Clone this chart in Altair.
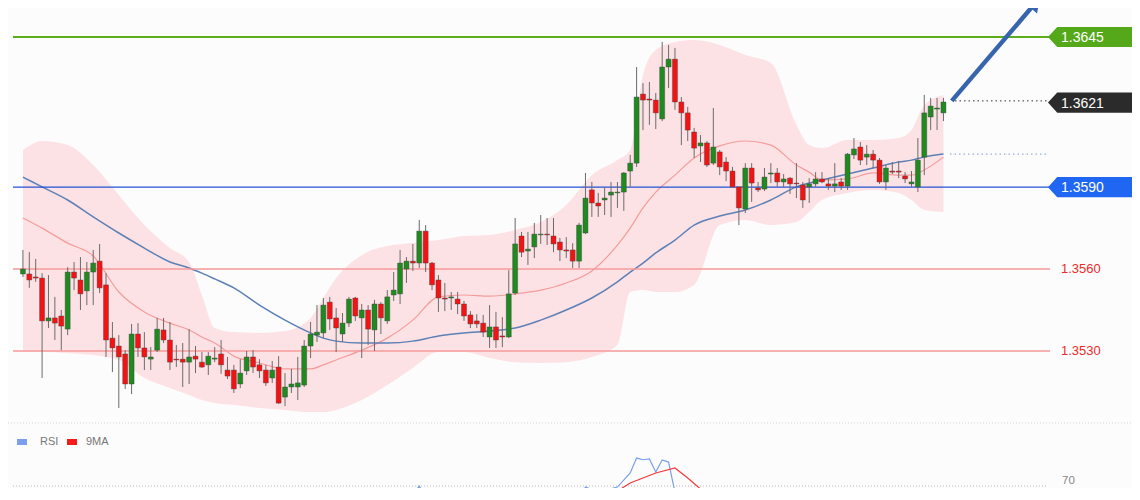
import altair as alt
import pandas as pd

# ------------------------------------------------------------------ data
open_ = [
    1.35582, 1.35582, 1.35571, 1.35567, 1.35410, 1.35421, 1.35428, 1.35380, 1.35589, 1.35560,
    1.35520, 1.35589, 1.35629, 1.35542, 1.35347, 1.35318, 1.35289, 1.35179, 1.35362, 1.35311,
    1.35270, 1.35303, 1.35377, 1.35340, 1.35270, 1.35270, 1.35259, 1.35281, 1.35259, 1.35249,
    1.35270, 1.35289, 1.35230, 1.35230, 1.35179, 1.35227, 1.35278, 1.35249, 1.35230, 1.35201,
    1.35241, 1.35131, 1.35168, 1.35168, 1.35175, 1.35318, 1.35358, 1.35366, 1.35479, 1.35421,
    1.35362, 1.35402, 1.35494, 1.35421, 1.35450, 1.35377, 1.35472, 1.35410, 1.35505, 1.35509,
    1.35600, 1.35629, 1.35622, 1.35739, 1.35622, 1.35560, 1.35494, 1.35494, 1.35490, 1.35472,
    1.35432, 1.35410, 1.35402, 1.35351, 1.35388, 1.35355, 1.35351, 1.35512, 1.35721, 1.35666,
    1.35681, 1.35725, 1.35728, 1.35721, 1.35699, 1.35670, 1.35670, 1.35629, 1.35732, 1.35890,
    1.35842, 1.35853, 1.35871, 1.35879, 1.35882, 1.35959, 1.35988, 1.36241, 1.36223, 1.36219,
    1.36150, 1.36340, 1.36369, 1.36212, 1.36172, 1.36102, 1.36051, 1.36062, 1.35988, 1.36029,
    1.35992, 1.35959, 1.35901, 1.35820, 1.35970, 1.35897, 1.35893, 1.35948, 1.35952, 1.35919,
    1.35933, 1.35915, 1.35908, 1.35901, 1.35912, 1.35930, 1.35912, 1.35904, 1.35919, 1.35904,
    1.36018, 1.36047, 1.36010, 1.36021, 1.35999, 1.35919, 1.35959, 1.35959, 1.35941, 1.35912,
    1.35901, 1.36010, 1.36157, 1.36186, 1.36172,
]
high = [
    1.35670, 1.35662, 1.35637, 1.35585, 1.35578, 1.35498, 1.35450, 1.35607, 1.35626, 1.35644,
    1.35626, 1.35670, 1.35692, 1.35585, 1.35406, 1.35358, 1.35303, 1.35399, 1.35402, 1.35369,
    1.35314, 1.35421, 1.35421, 1.35406, 1.35322, 1.35329, 1.35380, 1.35318, 1.35296, 1.35296,
    1.35314, 1.35340, 1.35278, 1.35249, 1.35270, 1.35300, 1.35303, 1.35270, 1.35249, 1.35263,
    1.35281, 1.35219, 1.35234, 1.35278, 1.35340, 1.35406, 1.35468, 1.35494, 1.35498, 1.35457,
    1.35439, 1.35498, 1.35498, 1.35472, 1.35468, 1.35487, 1.35479, 1.35523, 1.35589, 1.35670,
    1.35644, 1.35692, 1.35780, 1.35761, 1.35626, 1.35578, 1.35549, 1.35516, 1.35516, 1.35483,
    1.35446, 1.35435, 1.35432, 1.35468, 1.35443, 1.35424, 1.35596, 1.35787, 1.35736, 1.35736,
    1.35769, 1.35798, 1.35787, 1.35787, 1.35714, 1.35717, 1.35695, 1.35769, 1.35952, 1.35919,
    1.35879, 1.35901, 1.35919, 1.35919, 1.35955, 1.36018, 1.36340, 1.36281, 1.36285, 1.36245,
    1.36432, 1.36421, 1.36410, 1.36230, 1.36194, 1.36117, 1.36091, 1.36069, 1.36190, 1.36036,
    1.36010, 1.35974, 1.35901, 1.35988, 1.35988, 1.35919, 1.35970, 1.35988, 1.35970, 1.35948,
    1.35937, 1.35988, 1.35919, 1.35933, 1.35955, 1.35955, 1.35933, 1.35988, 1.35933, 1.36025,
    1.36080, 1.36065, 1.36054, 1.36036, 1.36007, 1.35981, 1.35992, 1.35996, 1.35955, 1.35959,
    1.36080, 1.36238, 1.36227, 1.36227, 1.36227,
]
low = [
    1.35571, 1.35531, 1.35553, 1.35201, 1.35384, 1.35340, 1.35303, 1.35358, 1.35523, 1.35450,
    1.35468, 1.35468, 1.35512, 1.35278, 1.35223, 1.35091, 1.35161, 1.35142, 1.35278, 1.35230,
    1.35230, 1.35296, 1.35329, 1.35230, 1.35241, 1.35168, 1.35179, 1.35219, 1.35238, 1.35212,
    1.35259, 1.35216, 1.35197, 1.35146, 1.35164, 1.35212, 1.35219, 1.35201, 1.35172, 1.35183,
    1.35106, 1.35098, 1.35146, 1.35120, 1.35168, 1.35274, 1.35333, 1.35347, 1.35377, 1.35296,
    1.35333, 1.35388, 1.35410, 1.35274, 1.35322, 1.35300, 1.35362, 1.35399, 1.35483, 1.35472,
    1.35549, 1.35593, 1.35604, 1.35589, 1.35523, 1.35443, 1.35446, 1.35450, 1.35435, 1.35410,
    1.35384, 1.35384, 1.35351, 1.35311, 1.35311, 1.35314, 1.35347, 1.35505, 1.35644, 1.35615,
    1.35640, 1.35692, 1.35688, 1.35662, 1.35629, 1.35640, 1.35604, 1.35604, 1.35728, 1.35791,
    1.35791, 1.35798, 1.35791, 1.35824, 1.35813, 1.35901, 1.35974, 1.36109, 1.36128, 1.36113,
    1.36142, 1.36263, 1.36183, 1.36054, 1.36069, 1.36007, 1.35992, 1.35974, 1.35981, 1.35944,
    1.35922, 1.35897, 1.35761, 1.35805, 1.35846, 1.35882, 1.35886, 1.35915, 1.35901, 1.35901,
    1.35875, 1.35860, 1.35824, 1.35842, 1.35901, 1.35915, 1.35890, 1.35882, 1.35890, 1.35890,
    1.36003, 1.35981, 1.35981, 1.35970, 1.35912, 1.35890, 1.35948, 1.35933, 1.35915, 1.35901,
    1.35882, 1.35944, 1.36109, 1.36109, 1.36142,
]
close = [
    1.35600, 1.35560, 1.35567, 1.35410, 1.35421, 1.35402, 1.35391, 1.35589, 1.35567, 1.35509,
    1.35589, 1.35622, 1.35531, 1.35340, 1.35311, 1.35278, 1.35179, 1.35362, 1.35311, 1.35278,
    1.35278, 1.35380, 1.35340, 1.35259, 1.35267, 1.35259, 1.35278, 1.35270, 1.35241, 1.35281,
    1.35274, 1.35249, 1.35208, 1.35161, 1.35219, 1.35278, 1.35241, 1.35227, 1.35183, 1.35230,
    1.35109, 1.35168, 1.35179, 1.35183, 1.35318, 1.35362, 1.35369, 1.35468, 1.35417, 1.35384,
    1.35402, 1.35490, 1.35428, 1.35450, 1.35380, 1.35472, 1.35421, 1.35498, 1.35523, 1.35622,
    1.35629, 1.35622, 1.35739, 1.35622, 1.35542, 1.35494, 1.35490, 1.35498, 1.35472, 1.35428,
    1.35399, 1.35399, 1.35369, 1.35388, 1.35340, 1.35351, 1.35509, 1.35692, 1.35662, 1.35673,
    1.35728, 1.35728, 1.35725, 1.35692, 1.35670, 1.35666, 1.35629, 1.35761, 1.35860, 1.35842,
    1.35831, 1.35860, 1.35882, 1.35882, 1.35952, 1.35988, 1.36230, 1.36219, 1.36219, 1.36172,
    1.36340, 1.36369, 1.36212, 1.36172, 1.36109, 1.36043, 1.36062, 1.35981, 1.36047, 1.35974,
    1.35959, 1.35901, 1.35824, 1.35970, 1.35915, 1.35890, 1.35937, 1.35952, 1.35919, 1.35930,
    1.35912, 1.35912, 1.35853, 1.35912, 1.35930, 1.35919, 1.35904, 1.35912, 1.35904, 1.36021,
    1.36040, 1.35999, 1.36021, 1.35999, 1.35919, 1.35970, 1.35955, 1.35955, 1.35930, 1.35919,
    1.35999, 1.36172, 1.36197, 1.36190, 1.36212,
]

# Bollinger band / moving averages read at these candle numbers
band_idx = [1, 4, 8, 12, 16, 20, 24, 27, 29, 31, 34, 38, 42, 46, 48, 50, 54, 58, 62, 66,
            70, 74, 78, 82, 86, 90, 94, 96, 98, 100, 103, 106, 110, 114, 118, 122, 124, 126,
            130, 134, 138, 140, 142, 145]
band_upper = [1.36036, 1.36069, 1.36054, 1.35981, 1.35871, 1.35761, 1.35677, 1.35626, 1.35505, 1.35384,
              1.35369, 1.35366, 1.35373, 1.35421, 1.35494, 1.35567, 1.35651, 1.35684, 1.35695, 1.35706,
              1.35721, 1.35725, 1.35743, 1.35772, 1.35835, 1.35944, 1.35999, 1.36036, 1.36311, 1.36402,
              1.36432, 1.36439, 1.36421, 1.36384, 1.36355, 1.36128, 1.36054, 1.36043, 1.36073, 1.36073,
              1.36080, 1.36109, 1.36201, 1.36238]
band_lower = [1.35296, 1.35296, 1.35292, 1.35285, 1.35267, 1.35201, 1.35164, 1.35139, 1.35120, 1.35109,
              1.35102, 1.35091, 1.35084, 1.35076, 1.35076, 1.35084, 1.35120, 1.35175, 1.35238, 1.35296,
              1.35296, 1.35274, 1.35259, 1.35256, 1.35259, 1.35278, 1.35322, 1.35516, 1.35523, 1.35516,
              1.35516, 1.35542, 1.35761, 1.35780, 1.35761, 1.35772, 1.35809, 1.35853, 1.35879, 1.35890,
              1.35879, 1.35853, 1.35816, 1.35809]
ma_fast = [1.35787, 1.35750, 1.35695, 1.35648, 1.35516, 1.35443, 1.35402, 1.35377, 1.35351, 1.35329,
           1.35281, 1.35256, 1.35234, 1.35234, 1.35249, 1.35267, 1.35303, 1.35347, 1.35413, 1.35498,
           1.35505, 1.35501, 1.35509, 1.35523, 1.35549, 1.35593, 1.35688, 1.35750, 1.35824, 1.35882,
           1.35944, 1.36007, 1.36051, 1.36069, 1.36054, 1.35981, 1.35955, 1.35926, 1.35930, 1.35952,
           1.35944, 1.35944, 1.35963, 1.36010]
ma_slow = [1.35937, 1.35901, 1.35853, 1.35791, 1.35732, 1.35677, 1.35626, 1.35604, 1.35585, 1.35564,
           1.35531, 1.35468, 1.35413, 1.35366, 1.35347, 1.35336, 1.35329, 1.35329, 1.35336, 1.35355,
           1.35366, 1.35373, 1.35384, 1.35413, 1.35450, 1.35494, 1.35553, 1.35589, 1.35622, 1.35659,
           1.35706, 1.35761, 1.35794, 1.35816, 1.35853, 1.35901, 1.35915, 1.35926, 1.35948, 1.35970,
           1.35992, 1.35999, 1.36010, 1.36021]

# horizontal levels
level_prices = [1.3645, 1.3590, 1.3560, 1.3530]
level_colors = ["#5aae1c", "#2252d6", "#f59a9a", "#f59a9a"]
level_widths = [2, 1.3, 1.5, 1.5]
box_prices = [1.3645, 1.3621, 1.3590]
box_texts = ["1.3645", "1.3621", "1.3590"]
box_colors = ["#55a81a", "#2b2b2b", "#1f66f2"]
red_label_prices = [1.3560, 1.3530]
red_label_texts = ["1.3560", "1.3530"]
last_price = 1.36216
ma_slow_last = 1.36021
arrow_i = [146.3, 159.4]
arrow_p = [1.36216, 1.36575]

# RSI panel
rsi_idx = [1, 10, 20, 30, 40, 50, 55, 58, 60, 62, 63, 64, 65, 70, 76, 78, 80, 81, 83, 85,
           88, 89, 91, 94, 96, 97, 98, 99, 100, 101, 102, 103, 104, 106, 115, 125, 135, 140,
           142, 143, 144, 145]
rsi_val = [45, 38, 35, 42, 40, 52, 55, 60, 64.8, 65.7, 70, 64.8, 60, 50, 58, 64.3, 67.6, 67.6, 64.3, 60,
           64, 69.5, 67.1, 69.5, 76.2, 83.3, 82.5, 82.9, 76.7, 82.4, 81.4, 67.1, 61, 55, 45, 50, 50, 58,
           67.1, 68.1, 67.8, 68.6]
ma9_idx = [1, 20, 40, 60, 70, 80, 86, 89, 93, 96, 100, 103, 105, 109, 112, 120, 130, 145]
ma9_val = [42, 40, 42, 55, 56, 55, 63.3, 63.8, 65.7, 71.4, 76.2, 78.6, 73.8, 63.3, 58, 50, 48, 55]
rsi_level = 70

# ------------------------------------------------------------------ scales
W, H = 1124, 480
xs = alt.Scale(domain=[-0.5504, 173.713], nice=False, zero=False)
ys = alt.Scale(domain=[1.3479799, 1.3655623], nice=False, zero=False)
rs = alt.Scale(domain=[69.048, 297.619], nice=False, zero=False)
FONT = "Liberation Sans"


def X(f):
    return alt.X(f, type="quantitative", scale=xs, axis=None)


def Y(f):
    return alt.Y(f, type="quantitative", scale=ys, axis=None)


def R(f):
    return alt.Y(f, type="quantitative", scale=rs, axis=None)


candles = pd.DataFrame({"i": list(range(1, len(open_) + 1)), "open": open_,
                        "high": high, "low": low, "close": close})
bands = pd.DataFrame({"i": band_idx, "upper": band_upper, "lower": band_lower,
                      "fast": ma_fast, "slow": ma_slow})
levels = pd.DataFrame({"p": level_prices, "c": level_colors, "w": level_widths})
boxes = pd.DataFrame({"p": box_prices, "t": box_texts, "c": box_colors})
reds = pd.DataFrame({"p": red_label_prices, "t": red_label_texts})
arrow = pd.DataFrame({"i": arrow_i, "p": arrow_p})
rsi = pd.concat([
    pd.DataFrame({"i": rsi_idx, "v": rsi_val, "s": "RSI"}),
    pd.DataFrame({"i": ma9_idx, "v": ma9_val, "s": "9MA"}),
])
one = pd.DataFrame({"a": [0]})

band = alt.Chart(bands).mark_area(color="#fde2e5", opacity=1, interpolate="monotone").encode(
    x=X("i"), y=Y("upper"), y2="lower")
fast = alt.Chart(bands).mark_line(color="#f49c9c", strokeWidth=1.2, interpolate="monotone").encode(
    x=X("i"), y=Y("fast"))
slow = alt.Chart(bands).mark_line(color="#5d80b6", strokeWidth=1.5, interpolate="monotone").encode(
    x=X("i"), y=Y("slow"))

level_rules = alt.Chart(levels).mark_rule().encode(
    y=Y("p"), x=alt.value(5), x2=alt.value(1042),
    color=alt.Color("c:N", scale=None), strokeWidth=alt.StrokeWidth("w:Q", scale=None))

wicks = alt.Chart(candles).mark_rule(color="#6b6b6b", strokeWidth=1).encode(
    x=X("i"), y=Y("low"), y2="high")
bodies = alt.Chart(candles).mark_bar(size=5, stroke="#404040", strokeWidth=0.5, strokeOpacity=0.8).encode(
    x=X("i"), y=Y("open"), y2="close",
    color=alt.condition("datum.close >= datum.open", alt.value("#1f8a1f"), alt.value("#f21414")))

last_dots = alt.Chart(one).mark_rule(color="#333333", strokeDash=[1.5, 3], strokeWidth=1).encode(
    y=alt.Y(datum=last_price, scale=ys, axis=None), x=alt.value(947), x2=alt.value(1040))
slow_dots = alt.Chart(one).mark_rule(color="#7f9ccc", strokeDash=[1.5, 3], strokeWidth=1).encode(
    y=alt.Y(datum=ma_slow_last, scale=ys, axis=None), x=alt.value(942), x2=alt.value(1040))

box_path = "M-1,0L-0.79,-0.23L1,-0.23L1,0.23L-0.79,0.23Z"
box_marks = alt.Chart(boxes).mark_point(shape=box_path, filled=True, opacity=1, size=7744,
                                        strokeWidth=0).encode(
    x=alt.value(1084), y=Y("p"), color=alt.Color("c:N", scale=None))
box_text = alt.Chart(boxes).mark_text(align="left", baseline="middle", color="white",
                                      fontSize=14, font=FONT, dy=1).encode(
    x=alt.value(1053), y=Y("p"), text="t:N")
red_text = alt.Chart(reds).mark_text(align="left", baseline="middle", color="#ee2a2a",
                                     fontSize=13, font=FONT).encode(
    x=alt.value(1053), y=Y("p"), text="t:N")

arrow_line = alt.Chart(arrow).mark_line(color="#3765ad", strokeWidth=4.5).encode(
    x=X("i"), y=Y("p"))
arrow_head = alt.Chart(arrow.iloc[[1]]).mark_point(shape="triangle-up", filled=True, size=260,
                                                   angle=41, opacity=1, color="#3765ad").encode(
    x=X("i"), y=Y("p"))

separator = alt.Chart(one).mark_rule(color="#d6d6d6", strokeDash=[1, 2]).encode(
    x=alt.value(0), x2=alt.value(W), y=alt.value(415))
rsi70 = alt.Chart(pd.DataFrame({"v": [rsi_level], "t": [str(rsi_level)]}))
rsi70_rule = rsi70.mark_rule(color="#bdbdbd", strokeDash=[1, 2]).encode(
    y=R("v"), x=alt.value(5), x2=alt.value(1038))
rsi70_text = rsi70.mark_text(align="left", baseline="middle", color="#888888", fontSize=11.5,
                             font=FONT, dy=-5).encode(y=R("v"), x=alt.value(1054), text="t:N")
rsi_last = alt.Chart(one).mark_rule(color="#7b9fec", strokeDash=[1.5, 2.5]).encode(
    y=alt.Y(datum=rsi_val[-1], scale=rs, axis=None), x=alt.value(940), x2=alt.value(1038))
rsi_lines = alt.Chart(rsi).mark_line(clip=True, strokeWidth=1.2).encode(
    x=X("i"), y=R("v"), detail="s:N",
    color=alt.Color("s:N", scale=alt.Scale(domain=["RSI", "9MA"], range=["#7b9fec", "#f23a3a"]),
                    legend=None))

leg_rsi_sym = alt.Chart(one).mark_rule(color="#7b9fec", strokeWidth=6).encode(
    x=alt.value(9), x2=alt.value(19), y=alt.value(434))
leg_rsi_txt = alt.Chart(one).mark_text(align="left", baseline="middle", color="#777777",
                                       fontSize=11, font=FONT).encode(
    x=alt.value(32), y=alt.value(434), text=alt.value("RSI"))
leg_ma_sym = alt.Chart(one).mark_rule(color="#f21a1a", strokeWidth=6).encode(
    x=alt.value(59), x2=alt.value(69), y=alt.value(434))
leg_ma_txt = alt.Chart(one).mark_text(align="left", baseline="middle", color="#777777",
                                      fontSize=11, font=FONT).encode(
    x=alt.value(78), y=alt.value(434), text=alt.value("9MA"))

chart = alt.layer(
    band, fast, slow, level_rules, wicks, bodies, last_dots, slow_dots,
    box_marks, box_text, red_text, arrow_line, arrow_head,
    separator, rsi70_rule, rsi70_text, rsi_last, rsi_lines,
    leg_rsi_sym, leg_rsi_txt, leg_ma_sym, leg_ma_txt,
).resolve_scale(y="independent").properties(
    width=W, height=H, padding=0, background="#fcfcfc",
    autosize=alt.AutoSizeParams(type="none"),
).configure_view(stroke=None)

chart.save("out.html", embed_options={"renderer": "svg", "actions": False})
